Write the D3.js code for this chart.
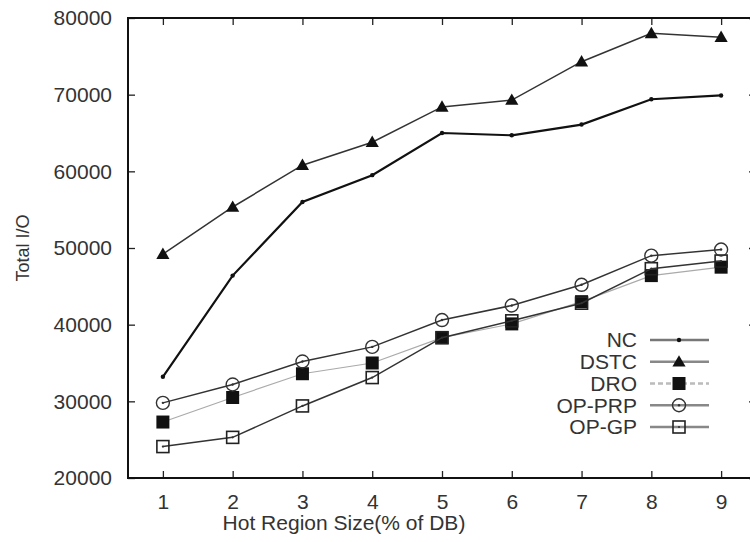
<!DOCTYPE html>
<html lang="en">
<head>
    <meta charset="UTF-8">
    <script src="https://cdnjs.cloudflare.com/ajax/libs/d3/7.8.5/d3.min.js" type="text/JavaScript"></script>
    <style>
        body { margin: 0; background: #fff; }
        text { font-family: "Liberation Sans", Arial, sans-serif; fill: #333; }
    </style>
</head>
<body>
<div id="viz">
    <svg style="width:750px;height:542px;"></svg>
</div>
<script>
    const sizes = [1, 2, 3, 4, 5, 6, 7, 8, 9];
    const yTicks = [20000, 30000, 40000, 50000, 60000, 70000, 80000];

    const nc     = [33200, 46400, 56000, 59500, 65000, 64700, 66100, 69400, 69900];
    const dstc   = [49200, 55350, 60800, 63800, 68400, 69300, 74300, 78000, 77500];
    const dro    = [27300, 30500, 33600, 35000, 38300, 40100, 43000, 46400, 47500];
    const opPrp  = [29800, 32200, 35200, 37100, 40600, 42500, 45200, 49000, 49800];
    const opGp   = [24100, 25300, 29400, 33100, 38300, 40500, 42800, 47300, 48300];

    const seriesNames = ['NC', 'DSTC', 'DRO', 'OP-PRP', 'OP-GP'];

    const series = [
        {name: 'NC', values: nc, stroke: '#111', width: 2.2, mark: 'dot', legendStroke: '#777', dash: null},
        {name: 'DSTC', values: dstc, stroke: '#333', width: 1.5, mark: 'tri', legendStroke: '#888', dash: null},
        {name: 'DRO', values: dro, stroke: '#aaa', width: 1.2, mark: 'fsq', legendStroke: '#bbb', dash: '5,3'},
        {name: 'OP-PRP', values: opPrp, stroke: '#333', width: 1.5, mark: 'circ', legendStroke: '#888', dash: null},
        {name: 'OP-GP', values: opGp, stroke: '#333', width: 1.5, mark: 'hsq', legendStroke: '#888', dash: null}
    ];

    const plotLeft = 128, plotRight = 756, plotTop = 18, plotBottom = 478;

    const xScale = d3.scaleLinear().domain([0.5, 9.5]).range([plotLeft, plotRight]);
    const yScale = d3.scaleLinear().domain([20000, 80000]).range([plotBottom, plotTop]);

    const svg = d3.select('svg');

    // axes, ticks pointing inward
    svg.append('g').attr('transform', `translate(0,${plotBottom})`)
        .call(d3.axisBottom(xScale).tickValues(sizes).tickSize(-7).tickSizeOuter(0).tickPadding(16).tickFormat(d3.format('d')));
    svg.append('g').attr('transform', `translate(0,${plotTop})`)
        .call(d3.axisTop(xScale).tickValues(sizes).tickSize(-7).tickSizeOuter(0).tickFormat(''));
    svg.append('g').attr('transform', `translate(${plotLeft},0)`)
        .call(d3.axisLeft(yScale).tickValues(yTicks).tickSize(-7).tickSizeOuter(0).tickPadding(16).tickFormat(d3.format('d')));
    svg.append('g').attr('transform', `translate(${plotRight},0)`)
        .call(d3.axisRight(yScale).tickValues(yTicks).tickSize(-7).tickSizeOuter(0).tickFormat(''));

    svg.selectAll('.domain').remove();
    svg.selectAll('.tick line').attr('stroke', '#222').attr('stroke-width', 1.3);
    svg.selectAll('.tick text').style('font-size', '21px').style('font-family', '"Liberation Sans", Arial, sans-serif').attr('fill', '#333');

    svg.append('rect')
        .attr('x', plotLeft).attr('y', plotTop)
        .attr('width', plotRight - plotLeft).attr('height', plotBottom - plotTop)
        .attr('fill', 'none').attr('stroke', '#111').attr('stroke-width', 2);

    // axis titles
    svg.append('text')
        .attr('x', 344).attr('y', 530)
        .attr('text-anchor', 'middle')
        .style('font-size', '21px')
        .text('Hot Region Size(% of DB)');

    svg.append('text')
        .attr('transform', 'translate(29,248) rotate(-90)')
        .attr('text-anchor', 'middle')
        .style('font-size', '18px')
        .text('Total I/O');

    const line = d3.line()
        .x((d, i) => xScale(sizes[i]))
        .y(d => yScale(d));

    function drawMark(g, kind, x, y) {
        if (kind === 'dot') {
            g.append('circle').attr('cx', x).attr('cy', y).attr('r', 2.2).attr('fill', '#111');
        } else if (kind === 'tri') {
            g.append('path').attr('d', d3.symbol(d3.symbolTriangle, 75)()).attr('transform', `translate(${x},${y + 1})`).attr('fill', '#111');
        } else if (kind === 'fsq') {
            g.append('rect').attr('x', x - 6.5).attr('y', y - 6.5).attr('width', 13).attr('height', 13).attr('fill', '#111');
        } else if (kind === 'circ') {
            g.append('circle').attr('cx', x).attr('cy', y).attr('r', 6.5).attr('fill', 'none').attr('stroke', '#333').attr('stroke-width', 1.4);
            g.append('circle').attr('cx', x).attr('cy', y).attr('r', 1.2).attr('fill', '#333');
        } else if (kind === 'hsq') {
            g.append('rect').attr('x', x - 6).attr('y', y - 6).attr('width', 12).attr('height', 12).attr('fill', 'none').attr('stroke', '#222').attr('stroke-width', 1.6);
            g.append('circle').attr('cx', x).attr('cy', y).attr('r', 1.1).attr('fill', '#333');
        }
    }

    // draw from back to front so hollow marks sit above filled squares
    const order = ['DSTC', 'NC', 'DRO', 'OP-GP', 'OP-PRP'];
    order.forEach(name => {
        const s = series.find(d => d.name === name);
        const g = svg.append('g');
        g.append('path')
            .attr('d', line(s.values))
            .attr('fill', 'none')
            .attr('stroke', s.stroke)
            .attr('stroke-width', s.width);
        s.values.forEach((v, i) => drawMark(g, s.mark, xScale(sizes[i]), yScale(v)));
    });

    // legend
    const legendY = d3.scalePoint().domain(seriesNames).range([340, 427]);
    const legend = svg.append('g');
    series.forEach(s => {
        const y = legendY(s.name);
        legend.append('text')
            .attr('x', 637).attr('y', y)
            .attr('dy', '0.35em')
            .attr('text-anchor', 'end')
            .style('font-size', '21px')
            .text(s.name);
        legend.append('line')
            .attr('x1', 650).attr('x2', 709).attr('y1', y).attr('y2', y)
            .attr('stroke', s.legendStroke)
            .attr('stroke-width', 2.5)
            .attr('stroke-dasharray', s.dash);
        drawMark(legend, s.mark, 679, y);
    });
</script>
</body>
</html>
